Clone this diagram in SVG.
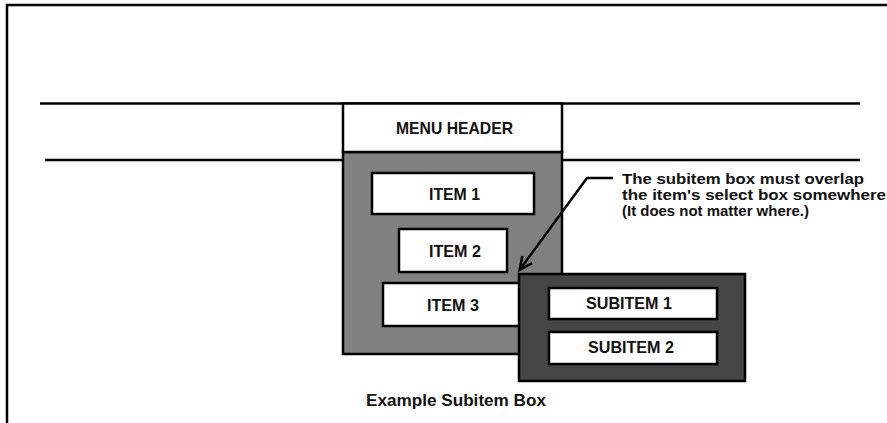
<svg xmlns="http://www.w3.org/2000/svg" width="887" height="423" viewBox="0 0 887 423">
  <style>
    .ln { stroke: #000; stroke-width: 2.5; fill: none; }
    .box { stroke: #000; stroke-width: 2.5; fill: #fff; }
    .lbl { font-family: "Liberation Sans", Arial, sans-serif; font-weight: bold; font-size: 17px; fill: #111; }
    .note { font-size: 15px; }
  </style>
  <defs>
    <marker id="arr" markerUnits="userSpaceOnUse" markerWidth="20" markerHeight="20" viewBox="-16 -10 20 20" refX="0" refY="0" orient="auto">
      <path d="M-13,-6 L0,0 L-13,6" fill="none" stroke="#000" stroke-width="2.5"/>
    </marker>
  </defs>
  <rect width="887" height="423" fill="#fff"/>
  <g id="frame">
    <path class="ln" d="M7,423 V5 H887"/>
    <path class="ln" d="M40,103.5 H860"/>
    <path class="ln" d="M45,160 H343 M562,160 H860"/>
  </g>
  <g id="menu">
    <rect x="343" y="152" width="219" height="202" fill="#808080" stroke="#000" stroke-width="2.5"/>
    <rect class="box" x="343" y="103.5" width="219" height="48.5"/>
    <text class="lbl" x="396" y="134" textLength="117" lengthAdjust="spacingAndGlyphs">MENU HEADER</text>
  </g>
  <g id="item1">
    <rect class="box" x="372" y="173" width="162" height="41"/>
    <text class="lbl" x="429" y="200" textLength="51" lengthAdjust="spacingAndGlyphs">ITEM 1</text>
  </g>
  <g id="item2">
    <rect class="box" x="399" y="229" width="108" height="43"/>
    <text class="lbl" x="429" y="257" textLength="52" lengthAdjust="spacingAndGlyphs">ITEM 2</text>
  </g>
  <g id="item3">
    <rect class="box" x="383" y="283" width="140" height="43"/>
    <text class="lbl" x="427" y="311" textLength="52" lengthAdjust="spacingAndGlyphs">ITEM 3</text>
  </g>
  <g id="subitembox">
    <rect x="519" y="274" width="226" height="107" fill="#454545" stroke="#000" stroke-width="2.5"/>
  </g>
  <g id="subitem1">
    <rect class="box" x="549" y="288" width="168" height="31"/>
    <text class="lbl" x="586" y="309" textLength="86" lengthAdjust="spacingAndGlyphs">SUBITEM 1</text>
  </g>
  <g id="subitem2">
    <rect class="box" x="549" y="332" width="168" height="32"/>
    <text class="lbl" x="588" y="353" textLength="86" lengthAdjust="spacingAndGlyphs">SUBITEM 2</text>
  </g>
  <g id="connectors">
    <path class="ln" d="M613,178 H587 L519.5,270" marker-end="url(#arr)"/>
  </g>
  <g id="note">
    <text class="lbl note" x="622" y="184" textLength="242" lengthAdjust="spacingAndGlyphs">The subitem box must overlap</text>
    <text class="lbl note" x="622" y="200" textLength="264" lengthAdjust="spacingAndGlyphs">the item's select box somewhere</text>
    <text class="lbl note" x="622" y="216" textLength="187" lengthAdjust="spacingAndGlyphs">(It does not matter where.)</text>
  </g>
  <g id="caption">
    <text class="lbl" x="366" y="406" textLength="180" lengthAdjust="spacingAndGlyphs">Example Subitem Box</text>
  </g>
</svg>
